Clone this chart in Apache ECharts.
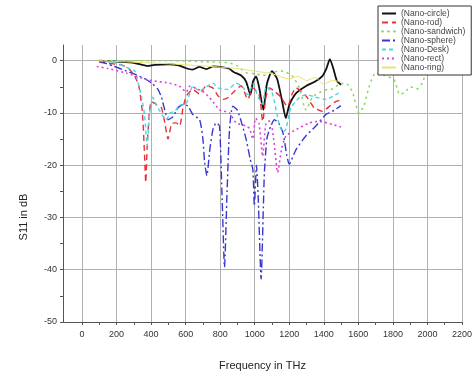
<!DOCTYPE html>
<html>
<head>
<meta charset="utf-8">
<script src="https://cdn.jsdelivr.net/npm/echarts@6/dist/echarts.min.js"></script>
<style>
  html, body { margin: 0; padding: 0; background: #fff; }
  #chart { width: 475px; height: 376px; }
</style>
</head>
<body>
<div id="chart"></div>
<script>
// tick values
var xLabelValues = [0, 200, 400, 600, 800, 1000, 1200, 1400, 1600, 1800, 2000, 2200];
var xTickValues = [0, 100, 200, 300, 400, 500, 600, 700, 800, 900, 1000, 1100, 1200, 1300, 1400, 1500, 1600, 1700, 1800, 1900, 2000, 2100, 2200];
var yLabelValues = [-50, -40, -30, -20, -10, 0];
var yTickValues = [-50, -45, -40, -35, -30, -25, -20, -15, -10, -5, 0];

// series, [THz, dB]
var nanoCircle = [[100,0],[150,-0.1],[200,-0.2],[300,-0.4],[380,-1],[420,-0.8],[500,-0.7],[560,-0.9],[600,-1.4],[640,-1.7],[680,-1.2],[720,-1.6],[760,-1.1],[800,-1.2],[850,-1.5],[880,-2.2],[920,-2.8],[950,-4],[975,-6.5],[990,-4],[1008,-3],[1025,-5],[1050,-9.4],[1070,-4.5],[1100,-2],[1130,-3.5],[1160,-8],[1180,-11],[1200,-8.5],[1240,-6.2],[1300,-4.8],[1350,-4],[1390,-3],[1415,-1.5],[1435,0.3],[1455,-1.5],[1475,-3.8],[1500,-4.6]];
var nanoRod = [[100,-0.3],[150,-0.5],[229,-0.8],[270,-1.5],[306,-3],[330,-5],[350,-10],[362,-18],[369,-23.3],[378,-16],[390,-10],[402,-7.8],[431,-8.4],[460,-9],[480,-12],[498,-15],[520,-12],[546,-11.9],[565,-12.5],[585,-9],[604,-6.8],[641,-5.5],[681,-6.4],[719,-4.8],[757,-5.2],[787,-6.7],[816,-7.4],[850,-7],[872,-6.2],[921,-4.8],[960,-7.4],[989,-5.2],[1027,-6.7],[1046,-11.6],[1065,-7],[1085,-5.2],[1120,-6],[1152,-7],[1190,-8.8],[1215,-6.5],[1239,-5.2],[1296,-6.7],[1344,-9],[1392,-9.7],[1441,-8.5],[1470,-7.8],[1500,-7.5]];
var nanoSandwich = [[100,0],[300,0],[500,0],[700,-0.2],[850,-0.4],[900,-1],[950,-2.3],[1000,-2.5],[1050,-2.8],[1100,-2.2],[1160,-2],[1220,-3],[1260,-5.4],[1296,-9.4],[1335,-7],[1380,-6],[1420,-5.5],[1450,-5.4],[1490,-4.5],[1527,-4.3],[1565,-5.9],[1604,-10],[1633,-8.6],[1662,-5],[1700,-2.3],[1750,-2.8],[1806,-3.6],[1824,-5.2],[1839,-6.5],[1870,-6],[1902,-5],[1940,-5.4],[1968,-4.4],[1985,-2.9]];
var nanoSphere = [[100,-0.1],[180,-1],[258,-2],[320,-2.8],[373,-3.6],[410,-4.5],[440,-5.5],[460,-7],[479,-9.4],[498,-11.3],[527,-10.7],[556,-9],[585,-8.4],[614,-8.7],[642,-10.3],[681,-11.3],[700,-15],[710,-19.5],[723,-22],[740,-17],[758,-13.2],[777,-11.9],[796,-12.5],[810,-25],[825,-39.5],[840,-25],[854,-13.2],[873,-8.7],[900,-9.5],[925,-12],[950,-15],[975,-19],[989,-20.8],[998,-27.8],[1010,-20],[1020,-26],[1037,-41.8],[1050,-28],[1056,-21.4],[1070,-15],[1085,-13.2],[1114,-11.3],[1140,-12],[1165,-14],[1185,-18],[1200,-19.8],[1239,-17],[1296,-14.4],[1354,-12.5],[1412,-10.3],[1460,-9.5],[1498,-8.6]];
var nanoDesk = [[100,0],[200,-0.5],[258,-1.3],[306,-2],[325,-4.3],[345,-7],[363,-10.6],[377,-16.3],[392,-10],[410,-7],[430,-8.5],[469,-10.6],[489,-11.3],[510,-10],[537,-9.7],[565,-8.5],[600,-8.4],[642,-4.9],[681,-5.8],[720,-5],[758,-4.3],[787,-5.2],[844,-5.5],[892,-4.3],[930,-5],[960,-6.5],[990,-4.5],[1020,-7],[1045,-8.3],[1066,-5],[1100,-6],[1142,-12.2],[1165,-13.7],[1181,-13],[1210,-9],[1260,-7],[1300,-6.5],[1354,-7],[1412,-7.4],[1470,-6.5],[1500,-5.9]];
var nanoRect = [[85,-1.1],[150,-1.5],[258,-2.4],[373,-3.6],[421,-3.9],[489,-4.2],[508,-4.3],[565,-4.9],[604,-6],[623,-4.9],[700,-5.9],[750,-7.5],[796,-9.4],[854,-10],[892,-11.9],[950,-12.5],[970,-13],[989,-15],[1005,-11],[1025,-12],[1046,-18.3],[1065,-12],[1090,-11.5],[1110,-15],[1133,-21.4],[1155,-17],[1181,-14.4],[1239,-13.2],[1316,-11.9],[1373,-11.6],[1450,-12.2],[1500,-12.7]];
var nanoRing = [[100,0],[300,-0.3],[500,-0.6],[700,-1],[900,-1.5],[1000,-2],[1100,-2.5],[1200,-3.5],[1250,-3],[1300,-3.8],[1350,-3.2],[1400,-4.5],[1450,-3.8],[1500,-4]];

var chart = echarts.init(document.getElementById('chart'));

function line(name, data, color, width, type, cap) {
  return {
    name: name,
    type: 'line',
    xAxisIndex: 0,
    yAxisIndex: 0,
    data: data,
    symbol: 'none',
    smooth: 0.2,
    color: color,
    lineStyle: { color: color, width: width, type: type, cap: cap || 'butt' },
    z: 3
  };
}

var plain = function (v) { return String(v); };
var axisFont = { fontFamily: 'Liberation Sans', fontSize: 9, color: '#333', formatter: plain };

var option = {
  animation: false,
  backgroundColor: '#fff',
  grid: { left: 63, right: 12, top: 45, bottom: 54 },
  legend: {
    orient: 'vertical',
    left: 378,
    top: 6,
    padding: [3, 6, 3, 3],
    itemWidth: 14,
    itemHeight: 9,
    itemGap: 0,
    backgroundColor: '#fff',
    borderColor: '#333',
    borderWidth: 1,
    itemStyle: { opacity: 0 },
    textStyle: { fontFamily: 'Liberation Sans', fontSize: 8.5, color: '#444', lineHeight: 9 },
    z: 10
  },
  xAxis: [{
    type: 'value',
    min: -110,
    max: 2200,
    name: 'Frequency in THz',
    nameLocation: 'middle',
    nameGap: 38,
    nameTextStyle: { fontFamily: 'Liberation Sans', fontSize: 11, color: '#222' },
    axisLine: { show: true, onZero: false, lineStyle: { color: '#555', width: 1 } },
    axisTick: { show: true, length: 3, customValues: xTickValues, lineStyle: { color: '#555' } },
    axisLabel: Object.assign({ customValues: xLabelValues, margin: 8 }, axisFont),
    splitLine: { show: false }
  }, {
    type: 'value',
    min: -110,
    max: 2200,
    position: 'bottom',
    axisLine: { show: false },
    axisTick: { show: false, customValues: xLabelValues },
    axisLabel: { show: false },
    splitLine: { show: true, lineStyle: { color: '#b0b0b0', width: 1 } }
  }],
  yAxis: [{
    type: 'value',
    min: -50,
    max: 3,
    name: 'S11 in dB',
    nameLocation: 'middle',
    nameGap: 34,
    nameTextStyle: { fontFamily: 'Liberation Sans', fontSize: 11, color: '#222', padding: [0, 67, 0, 0] },
    axisLine: { show: true, onZero: false, lineStyle: { color: '#555', width: 1 } },
    axisTick: { show: true, length: 3, customValues: yTickValues, lineStyle: { color: '#555' } },
    axisLabel: Object.assign({ customValues: yLabelValues, margin: 6 }, axisFont),
    splitLine: { show: false }
  }, {
    type: 'value',
    min: -50,
    max: 3,
    position: 'left',
    axisLine: { show: false },
    axisTick: { show: false, customValues: [-40, -30, -20, -10, 0] },
    axisLabel: { show: false },
    splitLine: { show: true, lineStyle: { color: '#b0b0b0', width: 1 } }
  }],
  series: [
    line('(Nano-circle)', nanoCircle, '#111111', 1.8, 'solid'),
    line('(Nano-rod)', nanoRod, '#e8323a', 1.4, [6, 4]),
    line('(Nano-sandwich)', nanoSandwich, '#86dc5e', 1.6, [1, 5], 'round'),
    line('(Nano-sphere)', nanoSphere, '#3838d0', 1.4, [8, 3, 2, 3]),
    line('(Nano-Desk)', nanoDesk, '#4ad6e2', 1.4, [4, 3]),
    line('(Nano-rect)', nanoRect, '#e040e0', 1.6, [2, 3]),
    line('(Nano-ring)', nanoRing, '#eee070', 1, 'solid')
  ]
};

chart.setOption(option);
</script>
</body>
</html>
